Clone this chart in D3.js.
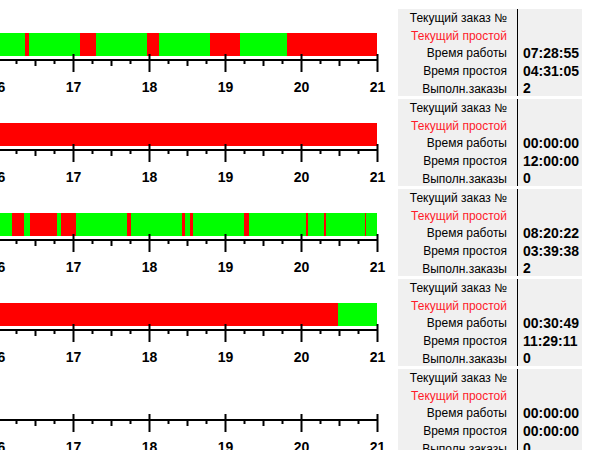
<!DOCTYPE html>
<html>
<head>
<meta charset="utf-8">
<script src="https://cdn.jsdelivr.net/npm/d3@7"></script>
<style>
  body { margin: 0; background: #fff; overflow: hidden; }
  svg { display: block; }
</style>
</head>
<body>
<div id="chart"></div>
<script>
// hours on the time axis (only the right end of the shift is in view)
const hourTicks = [16, 17, 18, 19, 20, 21];

// state bars: boundaries in hours + state of each piece
const line1Bounds = [15.9, 16.368, 16.421, 17.092, 17.303, 17.974, 18.132, 18.803, 19.197, 19.816, 21];
const line1States = ["work", "idle", "work", "idle", "work", "idle", "work", "idle", "work", "idle"];

const line2Bounds = [15.9, 21];
const line2States = ["idle"];

const line3Bounds = [15.9, 16.197, 16.355, 16.434, 16.789, 16.842, 17.039, 17.711, 17.763, 18.434, 18.474,
  18.539, 18.579, 19.250, 19.316, 20.066, 20.092, 20.303, 20.329, 20.842, 20.855, 21];
const line3States = ["work", "idle", "work", "idle", "work", "idle", "work", "idle", "work", "idle", "work",
  "idle", "work", "idle", "work", "idle", "work", "idle", "work", "idle", "work"];

const line4Bounds = [15.9, 20.487, 21];
const line4States = ["idle", "work"];

const line5Bounds = [];
const line5States = [];

// info table
const rowLabels = ["Текущий заказ №", "Текущий простой", "Время работы", "Время простоя", "Выполн.заказы"];
const curOrders = ["", "", "", "", ""];
const curIdle = ["", "", "", "", ""];
const workTimes = ["07:28:55", "00:00:00", "08:20:22", "00:30:49", "00:00:00"];
const idleTimes = ["04:31:05", "12:00:00", "03:39:38", "11:29:11", "00:00:00"];
const doneOrders = ["2", "0", "2", "0", "0"];

const lines = [
  { bounds: line1Bounds, states: line1States },
  { bounds: line2Bounds, states: line2States },
  { bounds: line3Bounds, states: line3States },
  { bounds: line4Bounds, states: line4States },
  { bounds: line5Bounds, states: line5States }
];

var width = 600, height = 450, panelH = 90;
const colors = { work: "#00ff00", idle: "#ff0000" };

const x = d3.scaleLinear()
  .domain([17, 18])
  .range([73, 149]);

var svg = d3.select("#chart").append("svg")
  .attr("width", width)
  .attr("height", height);

lines.forEach(function (ln, i) {
  var axisY = 60 + i * panelH;
  var g = svg.append("g").attr("transform", "translate(0," + axisY + ")");

  /* bars */
  var segs = ln.states.map((s, k) => ({ from: ln.bounds[k], to: ln.bounds[k + 1], state: s }));
  g.selectAll("rect.seg")
    .data(segs)
    .enter()
    .append("rect")
    .attr("class", "seg")
    .attr("x", (d) => x(d.from))
    .attr("width", (d) => x(d.to) - x(d.from))
    .attr("y", -27)
    .attr("height", 23)
    .attr("fill", (d) => colors[d.state])
    .attr("shape-rendering", "crispEdges");

  /* minor ticks every 15 min */
  var quarter = d3.range((hourTicks[0] - 1) * 4, hourTicks[hourTicks.length - 1] * 4).map((q) => q / 4)
    .filter((h) => h % 1 !== 0);
  var minorAxis = d3.axisBottom(x)
    .tickValues(quarter)
    .tickSize(0)
    .tickFormat("");
  var mg = g.append("g").call(minorAxis);
  mg.select(".domain").remove();
  mg.selectAll(".tick line")
    .attr("y1", 1)
    .attr("y2", (d) => (d % 1 === 0.5 ? 6 : 4))
    .attr("stroke", "#000")
    .attr("stroke-width", 2);

  /* major ticks + labels */
  var majorAxis = d3.axisBottom(x)
    .tickValues(hourTicks)
    .tickSize(0)
    .tickFormat(d3.format("d"));
  var ag = g.append("g").call(majorAxis);
  ag.select(".domain").remove();
  ag.selectAll(".tick line")
    .attr("y1", -6)
    .attr("y2", 12)
    .attr("stroke", "#000")
    .attr("stroke-width", 2);
  ag.selectAll(".tick text")
    .attr("y", 32)
    .attr("dy", null)
    .attr("font-family", "Liberation Sans, Arial, sans-serif")
    .attr("font-weight", "bold")
    .attr("font-size", 14)
    .attr("fill", "#000");

  /* axis line */
  g.append("line")
    .attr("x1", x(hourTicks[0] - 1))
    .attr("x2", x(hourTicks[hourTicks.length - 1]))
    .attr("y1", 0)
    .attr("y2", 0)
    .attr("stroke", "#000")
    .attr("stroke-width", 2);

  /* info table */
  var top = 9 + i * panelH;
  var t = svg.append("g").attr("transform", "translate(398," + top + ")");
  t.append("rect")
    .attr("width", 184)
    .attr("height", 87)
    .attr("fill", "#f0f0f0");
  t.append("line")
    .attr("x1", 119.5).attr("x2", 119.5)
    .attr("y1", 0).attr("y2", 87)
    .attr("stroke", "#000")
    .attr("stroke-width", 1);

  var vals = [curOrders[i], curIdle[i], workTimes[i], idleTimes[i], doneOrders[i]];
  t.selectAll("text.lbl")
    .data(rowLabels)
    .enter()
    .append("text")
    .attr("class", "lbl")
    .attr("x", 109)
    .attr("y", (d, k) => 9 + k * 17.6)
    .attr("dy", "0.35em")
    .attr("text-anchor", "end")
    .attr("font-family", "Liberation Sans, Arial, sans-serif")
    .attr("font-size", 12)
    .attr("fill", (d, k) => (k === 1 ? "#ff1a2a" : "#000"))
    .text((d) => d);

  t.selectAll("text.val")
    .data(vals)
    .enter()
    .append("text")
    .attr("class", "val")
    .attr("x", 125)
    .attr("y", (d, k) => 9 + k * 17.6)
    .attr("dy", "0.35em")
    .attr("font-family", "Liberation Sans, Arial, sans-serif")
    .attr("font-weight", "bold")
    .attr("font-size", 14)
    .attr("fill", "#000")
    .text((d) => d);
});
</script>
</body>
</html>
